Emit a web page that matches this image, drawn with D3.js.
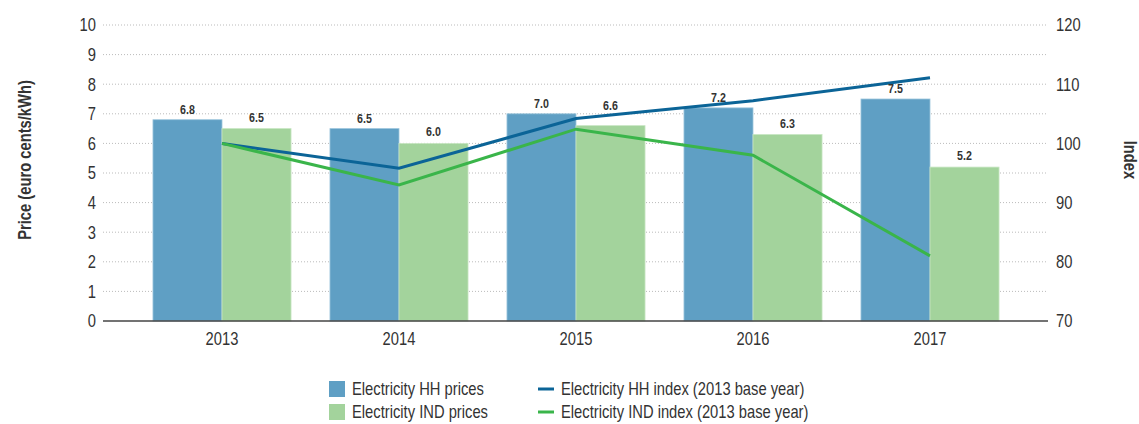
<!DOCTYPE html>
<html>
<head>
<meta charset="utf-8">
<script src="https://cdn.jsdelivr.net/npm/d3@7"></script>
<style>
  body { margin: 0; background: #fff; }
  svg text { font-family: "Liberation Sans", Arial, sans-serif; fill: #333; }
</style>
</head>
<body>
<svg id="chart" width="1139" height="424"></svg>
<script>
const years = ["2013", "2014", "2015", "2016", "2017"];
const hhPrices = [6.8, 6.5, 7.0, 7.2, 7.5];
const indPrices = [6.5, 6.0, 6.6, 6.3, 5.2];
const hhIndex = [100, 95.8, 104.2, 107.2, 111.1];
const indIndex = [100, 93.0, 102.4, 98.0, 81.0];
const priceTicks = [0, 1, 2, 3, 4, 5, 6, 7, 8, 9, 10];
const indexTicks = [70, 80, 90, 100, 110, 120];

const colors = { hh: "#5f9fc4", ind: "#a3d39c", hhLine: "#0b6497", indLine: "#3ab54a" };
const narrow = 0.82; // squeeze to mimic a narrow font

const svg = d3.select("#chart");
const plotLeft = 103, plotRight = 1048, plotTop = 25, plotBottom = 321;

// scales
const x = d3.scaleBand().domain(years).range([133.5, 1018.5]).paddingInner(0.22).paddingOuter(0.11);
const y = d3.scaleLinear().domain([0, 10]).range([plotBottom, plotTop]);
const yIdx = d3.scaleLinear().domain([70, 120]).range([plotBottom, plotTop]);

const place = (px, py) => "translate(" + px + "," + py + ") scale(" + narrow + ",1)";
const cx = yr => x(yr) + x.bandwidth() / 2;

// y of an index line at a given pixel x
const lineYAt = (series, px) => {
  const xs = years.map(cx);
  const ys = series.map(yIdx);
  for (let i = 0; i < xs.length - 1; i++) {
    if (px >= xs[i] && px <= xs[i + 1]) {
      const t = (px - xs[i]) / (xs[i + 1] - xs[i]);
      return ys[i] + t * (ys[i + 1] - ys[i]);
    }
  }
  return null;
};
// lift a bar label above any line running through it
const labelY = (px, base) => {
  let b = base;
  [hhIndex, indIndex].forEach(s => {
    const ly = lineYAt(s, px);
    if (ly !== null && ly + 1.5 > b - 9 && ly - 1.5 < b) b = ly - 5.5;
  });
  return b;
};

// gridlines
svg.append("g")
  .selectAll("line")
  .data(priceTicks.filter(d => d > 0))
  .join("line")
  .attr("x1", plotLeft).attr("x2", plotRight)
  .attr("y1", d => y(d)).attr("y2", d => y(d))
  .attr("stroke", "#bbb")
  .attr("stroke-width", 1)
  .attr("stroke-dasharray", "1,2");

// left axis labels
svg.append("g")
  .selectAll("text")
  .data(priceTicks)
  .join("text")
  .attr("transform", d => place(96, y(d)))
  .attr("dy", "0.35em")
  .attr("text-anchor", "end")
  .attr("font-size", "18px")
  .text(d => d);

// right axis labels
svg.append("g")
  .selectAll("text")
  .data(indexTicks)
  .join("text")
  .attr("transform", d => place(1056, yIdx(d)))
  .attr("dy", "0.35em")
  .attr("font-size", "18px")
  .text(d => d);

// bars
const bw = x.bandwidth() / 2;
const groups = svg.append("g").selectAll("g")
  .data(years)
  .join("g")
  .attr("transform", d => "translate(" + x(d) + ",0)");

groups.append("rect")
  .attr("x", 0).attr("width", bw)
  .attr("y", (d, i) => y(hhPrices[i]))
  .attr("height", (d, i) => y(0) - y(hhPrices[i]))
  .attr("fill", colors.hh)
  .attr("stroke", "#9cc5dc").attr("stroke-width", 0.8);

groups.append("rect")
  .attr("x", bw).attr("width", bw)
  .attr("y", (d, i) => y(indPrices[i]))
  .attr("height", (d, i) => y(0) - y(indPrices[i]))
  .attr("fill", colors.ind)
  .attr("stroke", "#c8e6c3").attr("stroke-width", 0.8);

// lines go under the value labels
const line = d3.line()
  .x((d, i) => cx(years[i]))
  .y(d => yIdx(d));

svg.append("path")
  .datum(hhIndex)
  .attr("fill", "none")
  .attr("stroke", colors.hhLine)
  .attr("stroke-width", 3)
  .attr("d", line);

svg.append("path")
  .datum(indIndex)
  .attr("fill", "none")
  .attr("stroke", colors.indLine)
  .attr("stroke-width", 3)
  .attr("d", line);

const labels = svg.append("g");
labels.selectAll("text.hh")
  .data(years)
  .join("text")
  .attr("class", "hh")
  .attr("transform", (d, i) => {
    const px = x(d) + bw / 2;
    return place(px, labelY(px, y(hhPrices[i]) - 6));
  })
  .attr("text-anchor", "middle")
  .attr("font-size", "13px").attr("font-weight", "bold")
  .text((d, i) => hhPrices[i].toFixed(1));

labels.selectAll("text.ind")
  .data(years)
  .join("text")
  .attr("class", "ind")
  .attr("transform", (d, i) => {
    const px = x(d) + bw * 1.5;
    return place(px, labelY(px, y(indPrices[i]) - 7));
  })
  .attr("text-anchor", "middle")
  .attr("font-size", "13px").attr("font-weight", "bold")
  .text((d, i) => indPrices[i].toFixed(1));

// x axis
const xAxis = svg.append("g").attr("transform", "translate(0," + plotBottom + ")");
xAxis.append("line")
  .attr("x1", plotLeft).attr("x2", plotRight)
  .attr("stroke", "#444").attr("stroke-width", 1.5);
xAxis.selectAll("text")
  .data(years)
  .join("text")
  .attr("transform", d => place(cx(d), 24))
  .attr("text-anchor", "middle")
  .attr("font-size", "18px")
  .text(d => d);

// axis titles
svg.append("text")
  .attr("transform", "translate(31,160) rotate(-90) scale(" + narrow + ",1)")
  .attr("text-anchor", "middle")
  .attr("font-size", "18px").attr("font-weight", "bold")
  .text("Price (euro cents/kWh)");

svg.append("text")
  .attr("transform", "translate(1124,160) rotate(90) scale(" + narrow + ",1)")
  .attr("text-anchor", "middle")
  .attr("font-size", "18px").attr("font-weight", "bold")
  .text("Index");

// legend
const legend = svg.append("g");
const boxItems = [
  { label: "Electricity HH prices", color: colors.hh, y: 389 },
  { label: "Electricity IND prices", color: colors.ind, y: 412 }
];
const lineItems = [
  { label: "Electricity HH index (2013 base year)", color: colors.hhLine, y: 389 },
  { label: "Electricity IND index (2013 base year)", color: colors.indLine, y: 412 }
];
legend.selectAll("rect")
  .data(boxItems)
  .join("rect")
  .attr("x", 329).attr("y", d => d.y - 8)
  .attr("width", 16).attr("height", 16)
  .attr("fill", d => d.color);
legend.selectAll("text.box")
  .data(boxItems)
  .join("text")
  .attr("class", "box")
  .attr("transform", d => place(352, d.y))
  .attr("dy", "0.35em")
  .attr("font-size", "18px")
  .text(d => d.label);
legend.selectAll("line")
  .data(lineItems)
  .join("line")
  .attr("x1", 538).attr("x2", 554)
  .attr("y1", d => d.y).attr("y2", d => d.y)
  .attr("stroke", d => d.color)
  .attr("stroke-width", 3);
legend.selectAll("text.ln")
  .data(lineItems)
  .join("text")
  .attr("class", "ln")
  .attr("transform", d => place(561, d.y))
  .attr("dy", "0.35em")
  .attr("font-size", "18px")
  .text(d => d.label);
</script>
</body>
</html>
